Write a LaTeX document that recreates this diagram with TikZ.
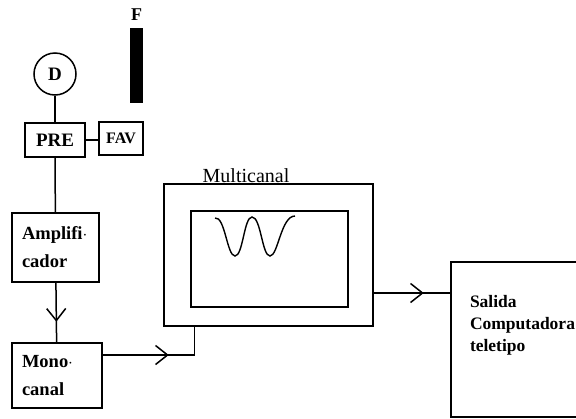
\documentclass[tikz,border=0pt]{standalone}
\usepackage{fontspec}
\setmainfont{Liberation Serif}
\usepackage{tikz}
\usetikzlibrary{arrows.meta, positioning, decorations.markings}

\begin{document}
\begin{tikzpicture}[
    x=1pt, y=-1pt,
    line width=1.5pt,
    blk/.style={draw, rectangle, inner sep=0pt, font=\fontsize{19}{22}\selectfont\bfseries},
    txtblk/.style={blk, align=left, inner xsep=10pt, font=\fontsize{18.5}{28}\selectfont\bfseries},
    midarr/.style={postaction={decorate}, decoration={markings,
        mark=at position #1 with {\arrow[line width=1.5pt]{Straight Barb[length=12pt, width=19pt]}}}},
  ]
    \useasboundingbox (0,0) rectangle (576,418);
    \clip (0,0) rectangle (576,418);

    % ── Detector and filter ──
    \node[draw, circle, minimum size=42pt, inner sep=0pt, font=\fontsize{19}{22}\selectfont\bfseries] (det) at (55,74) {D};
    \node[fill=black, minimum width=13pt, minimum height=75pt, inner sep=0pt] (bar) at (136.5,65.5) {};
    \node[font=\fontsize{18}{20}\selectfont\bfseries] (flab) at (136.5,15) {F};

    % ── Left chain ──
    \node[blk, minimum width=60pt, minimum height=34pt] (pre) at (55,140) {PRE};
    \node[blk, minimum width=44pt, minimum height=33pt, font=\fontsize{16}{18}\selectfont\bfseries] (fav) at (121,138.5) {FAV};
    \node[txtblk, text width=67pt, minimum height=69pt] (amp) at (55.5,247.5) {Amplifi$\cdot$\\cador};
    \node[txtblk, text width=70pt, minimum height=65pt] (mono) at (57,375.5) {Mono$\cdot$\\canal};

    % ── Multicanal ──
    \node[blk, minimum width=209pt, minimum height=142pt] (multi) at (268.5,255) {};
    \node[blk, minimum width=157pt, minimum height=96pt] (screen) at (269.5,259) {};
    \node[anchor=base, font=\fontsize{20}{22}\selectfont] (mlab) at ([xshift=-22.5pt, yshift=1pt]multi.north) {Multicanal};
    \draw[line width=1.4pt] (215,218) .. controls (225,216) and (227,256) .. (235,256)
        .. controls (243,256) and (244,217) .. (252,217)
        .. controls (261,217) and (262,256) .. (270,256)
        .. controls (278,256) and (281,216) .. (295,216);

    % ── Output ──
    \node[blk, minimum width=149pt, minimum height=155pt] (sal) at (525.5,339.5) {};
    \node[anchor=west, align=left, inner sep=0pt, font=\fontsize{17.5}{22}\selectfont\bfseries] (saltxt) at ([xshift=19pt, yshift=14.5pt]sal.west) {Salida\\Computadora\\teletipo};

    % Connections
    \draw (det) -- (pre);
    \draw (pre.east) -- (pre.east -| fav.west);
    \draw (pre) -- (amp);
    \draw[midarr=39pt] (amp) -- (mono);
    \draw[midarr=66pt] ([yshift=20.5pt]mono.east) -| ([xshift=31pt]multi.south west);
    \coordinate (mout) at ([yshift=-38pt]multi.east);
    \draw[midarr=50pt] (mout) -- (mout -| sal.west);
\end{tikzpicture}
\end{document}
